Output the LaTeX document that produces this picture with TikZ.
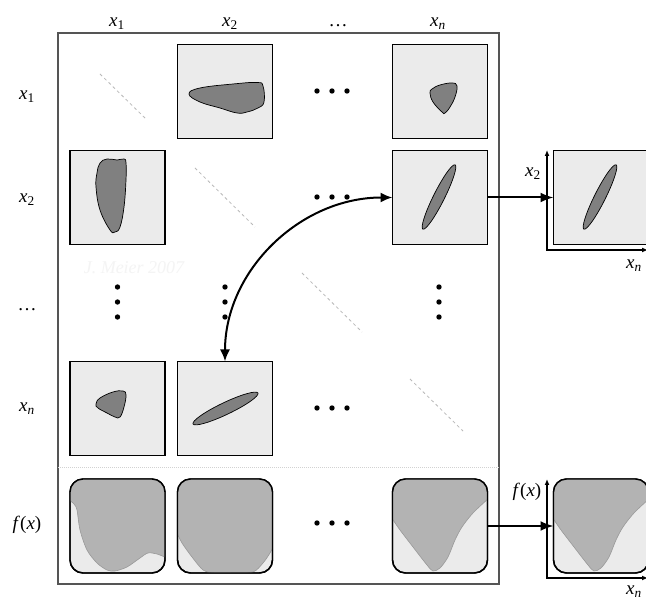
\documentclass[tikz,border=0pt]{standalone}
\usepackage{fontspec}
\setmainfont{Liberation Serif}
\usetikzlibrary{arrows.meta}
\definecolor{boxgray}{HTML}{EBEBEB}
\definecolor{blobgray}{HTML}{808080}
\definecolor{fgray}{HTML}{B3B3B3}
\definecolor{fline}{HTML}{999999}
\definecolor{framegray}{HTML}{555555}
\definecolor{wmark}{HTML}{F4F4F4}
\newcommand{\xsub}[1]{\textit{x}\textsubscript{#1}}
\newcommand{\fcurveA}{(69,500) (74,504) (77,510) (80,530) (87,550) (97,563) (107,570) (115,571) (127,567) (140,558) (148,553) (157,554) (167,558)}
\newcommand{\fcurveB}{(177,533) (182,543) (192,557) (203,570) (213,573) (233,573) (253,572) (263,563) (270,553) (274,545)}
\newcommand{\fcurveN}{(391,517) (400,530) (413,547) (427,565) (433,571) (440,568) (448,557) (455,540) (462,527) (473,513) (489,498)}
\begin{document}
\begin{tikzpicture}[x=1pt,y=-1pt,
  pbox/.style={draw=black,line width=1.4pt,fill=boxgray,minimum width=95pt,minimum height=94pt,inner sep=0pt,outer sep=0pt},
  fboxs/.style={pbox,rounded corners=13pt},
  fborder/.style={draw=black,line width=1.4pt,rounded corners=13pt},
  blob/.style={draw=black,line width=0.7pt,fill=blobgray},
  fregion/.style={fill=fgray},
  fedge/.style={draw=fline,line width=0.6pt},
  diag/.style={draw=gray!55,line width=0.8pt,dash pattern=on 3pt off 3pt},
  lab/.style={font=\fontsize{19}{21}\selectfont,inner sep=0pt,anchor=base},
  wm/.style={font=\fontsize{18}{20}\selectfont\itshape,text=wmark,inner sep=0pt},
  conn/.style={line width=2pt,-{Latex[length=13pt,width=10pt]}},
  bothconn/.style={line width=2pt,{Latex[length=12pt,width=10pt]}-{Latex[length=12pt,width=10pt]}},
  axis/.style={line width=1.3pt,{Latex[length=6pt,width=5pt]}-{Latex[length=6pt,width=5pt]}}
]
\useasboundingbox (0,0) rectangle (646,601);
\fill[white] (0,0) rectangle (646,601);

% outer frame and separator
\draw[framegray,line width=1.1pt] (58,33) rectangle (499,584);
\draw[gray!35,line width=0.8pt,dash pattern=on 1pt off 1pt] (58,467) -- (499,467);

% labels
\node[lab] (c1) at (117,27) {\xsub{1}};
\node[lab] (c2) at (230,27) {\xsub{2}};
\node[lab] (c3) at (338,27) {\dots};
\node[lab] (cn) at (438,27) {\xsub{\textit{n}}};
\node[lab] (r1) at (27,100) {\xsub{1}};
\node[lab] (r2) at (27,203) {\xsub{2}};
\node[lab] (r3) at (27,311) {\dots};
\node[lab] (rn) at (27,412) {\xsub{\textit{n}}};
\node[lab] (rf) at (27,530) {\textit{f}(\textit{x})};
\node[wm] (wm) at (134,268) {J. Meier 2007};

% diagonal dashes
\draw[diag] (100,74) -- (147,120);
\draw[diag] (195,168) -- (255,227);
\draw[diag] (302,273) -- (362,332);
\draw[diag] (410,379) -- (463,431);

% scatter boxes
\node[pbox] (b12) at (225,91.5) {};
\node[pbox] (b1n) at (440,91.5) {};
\node[pbox] (b21) at (117.5,197.5) {};
\node[pbox] (b2n) at (440,197.5) {};
\node[pbox] (bn1) at (117.5,408.5) {};
\node[pbox] (bn2) at (225,408.5) {};
\node[pbox] (rb) at (601,197.5) {};

% blobs
\draw[blob] plot[smooth cycle,tension=0.7] coordinates {(189,94) (200,88) (233,84) (257,82.5) (263,86) (264,102) (258,108) (247,112) (237,113) (220,108) (200,102)};
\draw[blob] plot[smooth cycle,tension=0.7] coordinates {(107,159) (117,160) (124,159) (126,163) (126,180) (124,207) (120,227) (115,232) (110,230) (100,210) (96,187) (97,173) (100,163)};
\draw[blob] plot[smooth cycle,tension=0.7] coordinates {(430,93) (432,89) (440,85) (452,83) (457,86) (455,97) (450,107) (445,113) (442,112) (433,102)};
\draw[blob] plot[smooth cycle,tension=0.7] coordinates {(96,404) (100,398) (113,392) (123,391) (126,395) (124,407) (120,417) (115,417) (107,413) (98,408)};
\draw[blob,rotate around={63.4:(439,197)}] (439,197) ellipse (36pt and 5.5pt);
\draw[blob,rotate around={63.4:(600,197)}] (600,197) ellipse (36pt and 5.5pt);
\draw[blob,rotate around={25.5:(225.5,408.5)}] (225.5,408.5) ellipse (36pt and 6pt);

% f boxes
\node[fboxs] (f1) at (117.5,526) {};
\node[fboxs] (f2) at (225,526) {};
\node[fboxs] (fn) at (440,526) {};
\node[fboxs] (rfb) at (601,526) {};
\begin{scope}
  \clip[rounded corners=13pt] (f1.north west) rectangle (f1.south east);
  \fill[fregion] (60,470) -- (60,500) -- plot[smooth] coordinates {\fcurveA} -- (175,558) -- (175,470) -- cycle;
  \draw[fedge] plot[smooth] coordinates {\fcurveA};
\end{scope}
\begin{scope}
  \clip[rounded corners=13pt] (f2.north west) rectangle (f2.south east);
  \fill[fregion] (170,470) -- (170,533) -- plot[smooth] coordinates {\fcurveB} -- (280,545) -- (280,470) -- cycle;
  \draw[fedge] plot[smooth] coordinates {\fcurveB};
\end{scope}
\begin{scope}
  \clip[rounded corners=13pt] (fn.north west) rectangle (fn.south east);
  \fill[fregion] (385,470) -- (385,517) -- plot[smooth] coordinates {\fcurveN} -- (495,498) -- (495,470) -- cycle;
  \draw[fedge] plot[smooth] coordinates {\fcurveN};
\end{scope}
\begin{scope}
  \clip[rounded corners=13pt] (rfb.north west) rectangle (rfb.south east);
  \begin{scope}[shift={(161,0)}]
    \fill[fregion] (385,470) -- (385,517) -- plot[smooth] coordinates {\fcurveN} -- (495,498) -- (495,470) -- cycle;
    \draw[fedge] plot[smooth] coordinates {\fcurveN};
  \end{scope}
\end{scope}
\draw[fborder] (f1.north west) rectangle (f1.south east);
\draw[fborder] (f2.north west) rectangle (f2.south east);
\draw[fborder] (fn.north west) rectangle (fn.south east);
\draw[fborder] (rfb.north west) rectangle (rfb.south east);

% dots
\foreach \x in {317,332,347} \foreach \y in {91,197,408,523} \fill (\x,\y) circle (2.7pt);
\foreach \x in {117.5,225,439} \foreach \y in {287,302,317} \fill (\x,\y) circle (2.7pt);

% axes
\coordinate (a1y) at (547,150);
\coordinate (a1o) at (547,250);
\coordinate (a1x) at (648,250);
\draw[axis] (a1y) -- (a1o) -- (a1x);
\coordinate (a2y) at (547,479);
\coordinate (a2o) at (547,578);
\coordinate (a2x) at (648,578);
\draw[axis] (a2y) -- (a2o) -- (a2x);
\node[lab] (ax2) at (533,177) {\xsub{2}};
\node[lab] (axn) at (634,269) {\xsub{\textit{n}}};
\node[lab] (afx) at (527,497) {\textit{f}(\textit{x})};
\node[lab] (afn) at (634,595) {\xsub{\textit{n}}};

% connectors
\draw[conn] (b2n.east) -- (rb.west);
\draw[conn] (fn.east) -- (rfb.west);
\draw[bothconn] (b2n.west) .. controls +(-92,0) and +(0,-91) .. (bn2.north);
\end{tikzpicture}
\end{document}
